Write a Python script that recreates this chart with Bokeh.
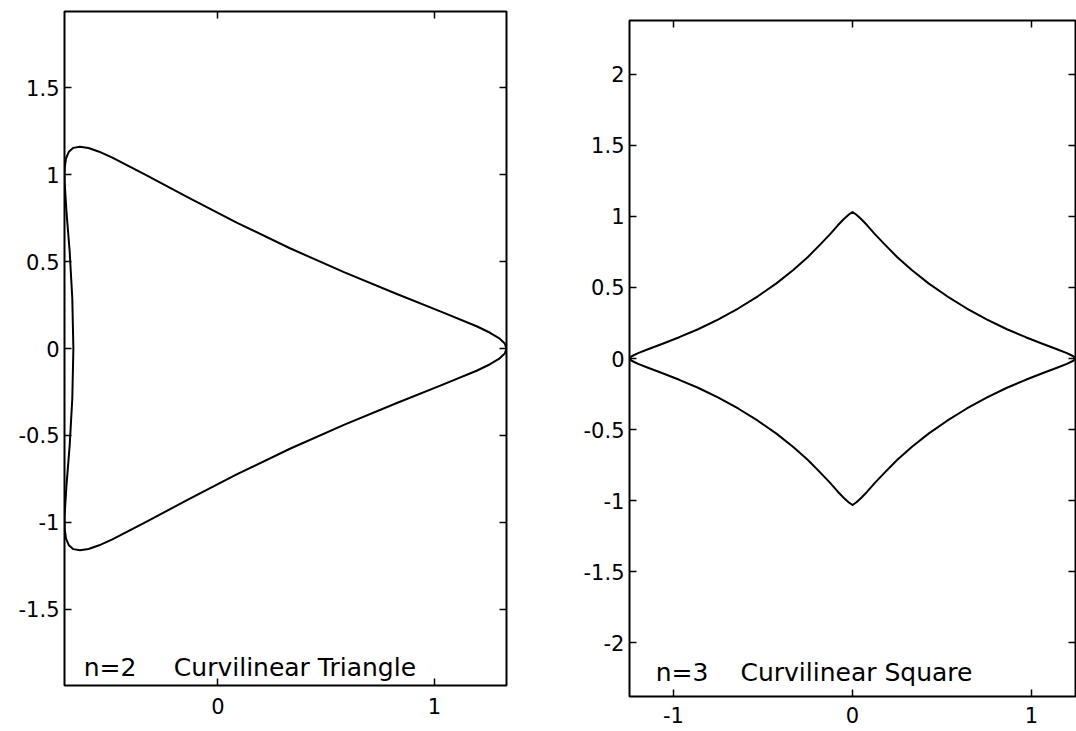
from bokeh.plotting import figure
from bokeh.models import FixedTicker, LinearAxis, Range1d, Label
from bokeh.layouts import row
from bokeh.embed import file_html
from bokeh.resources import INLINE

# ---------------- data ----------------
# n=2 : curvilinear triangle
tri_x = [1.333, 1.325, 1.298, 1.255, 1.195, 1.033, 0.824, 0.585, 0.333, 0.087,
         -0.140, -0.333, -0.487, -0.548, -0.597, -0.637, -0.667, -0.688, -0.701,
         -0.707, -0.708, -0.699, -0.684, -0.672, -0.667,
         -0.672, -0.684, -0.699, -0.708, -0.707, -0.701, -0.688, -0.667, -0.637,
         -0.597, -0.548, -0.487, -0.333, -0.140, 0.087, 0.333, 0.585, 0.824,
         1.033, 1.195, 1.255, 1.298, 1.325, 1.333]
tri_y = [0.000, 0.029, 0.060, 0.092, 0.128, 0.211, 0.315, 0.438, 0.577, 0.725,
         0.871, 1.000, 1.099, 1.133, 1.154, 1.162, 1.155, 1.132, 1.094,
         1.040, 0.971, 0.789, 0.556, 0.288, 0.000,
         -0.288, -0.556, -0.789, -0.971, -1.040, -1.094, -1.132, -1.155, -1.162,
         -1.154, -1.133, -1.099, -1.000, -0.871, -0.725, -0.577, -0.438, -0.315,
         -0.211, -0.128, -0.092, -0.060, -0.029, 0.000]

# n=3 : curvilinear square
sq_x = [1.246, 1.234, 1.198, 1.139, 1.061, 0.968, 0.863, 0.752, 0.639, 0.529,
        0.425, 0.331, 0.249, 0.181, 0.125, 0.082, 0.048, 0.022, 0.000,
        -0.022, -0.048, -0.082, -0.125, -0.181, -0.249, -0.331, -0.425, -0.529,
        -0.639, -0.752, -0.863, -0.968, -1.061, -1.139, -1.198, -1.234, -1.246,
        -1.234, -1.198, -1.139, -1.061, -0.968, -0.863, -0.752, -0.639, -0.529,
        -0.425, -0.331, -0.249, -0.181, -0.125, -0.082, -0.048, -0.022, 0.000,
        0.022, 0.048, 0.082, 0.125, 0.181, 0.249, 0.331, 0.425, 0.529,
        0.639, 0.752, 0.863, 0.968, 1.061, 1.139, 1.198, 1.234, 1.246]
sq_y = [0.000, 0.016, 0.038, 0.067, 0.104, 0.150, 0.206, 0.274, 0.352, 0.438,
        0.529, 0.623, 0.715, 0.802, 0.876, 0.938, 0.982, 1.012, 1.032,
        1.012, 0.982, 0.938, 0.876, 0.802, 0.715, 0.623, 0.529, 0.438,
        0.352, 0.274, 0.206, 0.150, 0.104, 0.067, 0.038, 0.016, 0.000,
        -0.016, -0.038, -0.067, -0.104, -0.150, -0.206, -0.274, -0.352, -0.438,
        -0.529, -0.623, -0.715, -0.802, -0.876, -0.938, -0.982, -1.012, -1.032,
        -1.012, -0.982, -0.938, -0.876, -0.802, -0.715, -0.623, -0.529, -0.438,
        -0.352, -0.274, -0.206, -0.150, -0.104, -0.067, -0.038, -0.016, 0.000]

left_xticks = [0, 1]
left_xlabels = ["0", "1"]
left_yticks = [-1.5, -1, -0.5, 0, 0.5, 1, 1.5]
left_ylabels = ["-1.5", "-1", "-0.5", "0", "0.5", "1", "1.5"]

right_xticks = [-1, 0, 1]
right_xlabels = ["-1", "0", "1"]
right_yticks = [-2, -1.5, -1, -0.5, 0, 0.5, 1, 1.5, 2]
right_ylabels = ["-2", "-1.5", "-1", "-0.5", "0", "0.5", "1", "1.5", "2"]

left_text = ["n=2", "Curvilinear Triangle"]
right_text = ["n=3", "Curvilinear Square"]

FONT = "DejaVu Sans"


def style_axis(ax, ticks, labels, show, standoff):
    ax.ticker = FixedTicker(ticks=ticks)
    ax.major_label_overrides = {t: (l if show else "") for t, l in zip(ticks, labels)}
    ax.axis_line_color = None
    ax.major_tick_in = 7
    ax.major_tick_out = 0
    ax.minor_tick_in = 0
    ax.minor_tick_out = 0
    ax.axis_label_standoff = 0
    ax.major_tick_line_width = 1.5
    ax.major_tick_line_color = "black"
    ax.minor_tick_line_color = None
    ax.major_label_standoff = standoff
    ax.major_label_text_font = FONT
    ax.major_label_text_font_size = "21px" if show else "1px"
    ax.major_label_text_color = "black"


def make_panel(width, xr, yr, borders, xt, xl, yt, yl, xs, ys, texts, tx, ty,
               xstand, ystand):
    p = figure(width=width, height=731,
               x_range=Range1d(*xr), y_range=Range1d(*yr),
               toolbar_location=None, output_backend="svg",
               min_border_left=borders[0], min_border_right=borders[1],
               min_border_top=borders[2], min_border_bottom=borders[3])
    if "frame_align" in p.properties():
        p.frame_align = False
    p.xgrid.visible = False
    p.ygrid.visible = False
    p.background_fill_color = "white"
    p.border_fill_color = "white"
    p.outline_line_color = "black"
    p.outline_line_width = 2
    p.outline_line_alpha = 1.0

    style_axis(p.xaxis[0], xt, xl, True, xstand)
    style_axis(p.yaxis[0], yt, yl, True, ystand)
    top = LinearAxis()
    p.add_layout(top, "above")
    style_axis(top, xt, xl, False, 0)
    right = LinearAxis()
    p.add_layout(right, "right")
    style_axis(right, yt, yl, False, 0)

    p.line(xs, ys, line_color="black", line_width=2, line_join="round")

    for txt, x in zip(texts, tx):
        p.add_layout(Label(x=x, y=ty, text=txt, text_font=FONT,
                           text_font_size="25px", text_color="black",
                           text_align="left", text_baseline="alphabetic"))
    return p


p1 = make_panel(509, (-0.708, 1.333), (-1.94, 1.94), (64, 3, 11, 46),
                left_xticks, left_xlabels, left_yticks, left_ylabels,
                tri_x, tri_y, left_text, [-0.619, -0.203], -1.839, 12, 5)
p2 = make_panel(567, (-1.246, 1.246), (-2.38, 2.38), (120, 1, 20, 35),
                right_xticks, right_xlabels, right_yticks, right_ylabels,
                sq_x, sq_y, right_text, [-1.10, -0.626], -2.208, 10, 5)

layout = row(p1, p2, spacing=0)
open("out.html", "w").write(file_html(layout, INLINE))
